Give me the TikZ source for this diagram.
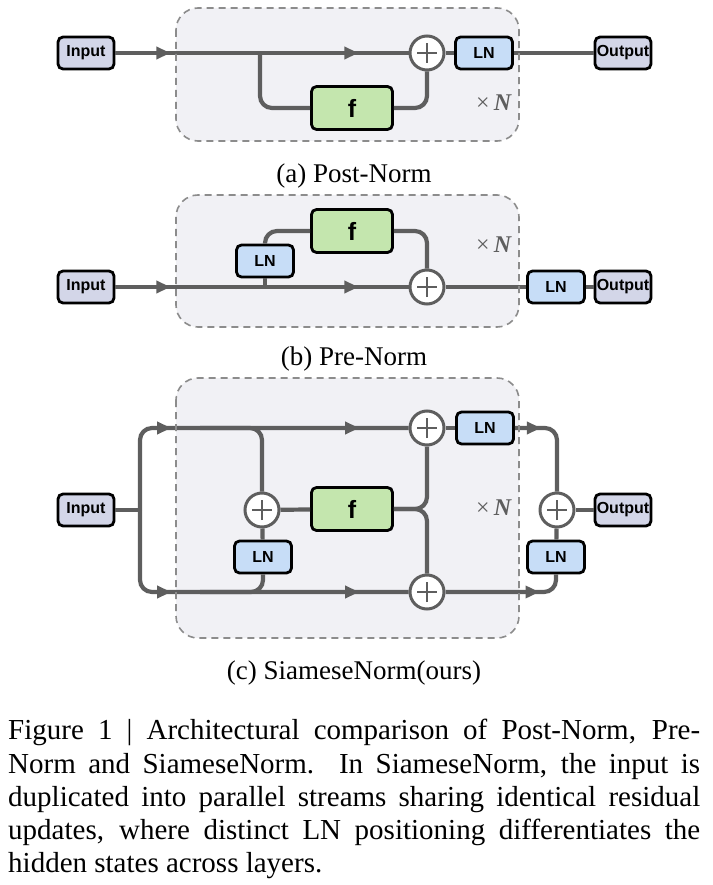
\documentclass[tikz,border=0pt]{standalone}
\usepackage{fontspec}
\setmainfont{Liberation Serif}
\newfontfamily\boxfont{Liberation Sans}
\usetikzlibrary{arrows.meta,decorations.markings}

\definecolor{wiregray}{HTML}{5E5E5E}
\definecolor{rimgray}{HTML}{8C8C8C}
\definecolor{layerfill}{HTML}{F1F1F5}
\definecolor{iofill}{HTML}{D3D6E8}
\definecolor{lnfill}{HTML}{C7DDF7}
\definecolor{ffill}{HTML}{C4E6AE}

\tikzset{
  wire/.style={draw=wiregray, line width=4.2pt, rounded corners=12pt},
  onetip/.style={postaction={decorate,decoration={markings,
      mark=at position #1 with {\arrow{Triangle[length=14pt,width=12pt]}}}}},
  twotips/.style 2 args={postaction={decorate,decoration={markings,
      mark=at position #1 with {\arrow{Triangle[length=14pt,width=12pt]}},
      mark=at position #2 with {\arrow{Triangle[length=14pt,width=12pt]}}}}},
  blk/.style={draw=black, line width=2.8pt, rounded corners=5pt, inner sep=0pt,
      minimum height=32pt, font=\boxfont\bfseries\fontsize{16}{16}\selectfont},
  iobox/.style={blk, fill=iofill, minimum width=56pt},
  lnbox/.style={blk, fill=lnfill, minimum width=57pt},
  fbox/.style={blk, fill=ffill, minimum width=81pt, minimum height=43pt,
      font=\boxfont\bfseries\fontsize{25}{25}\selectfont},
  addop/.style={circle, draw=wiregray, fill=white, line width=3pt,
      minimum size=34pt, inner sep=0pt,
      path picture={\draw[wiregray, line width=2.8pt]
        ([xshift=-10pt]path picture bounding box.center) -- ([xshift=10pt]path picture bounding box.center)
        ([yshift=-10pt]path picture bounding box.center) -- ([yshift=10pt]path picture bounding box.center);}},
  layerbg/.style={fill=layerfill, rounded corners=22pt},
  layerrim/.style={draw=rimgray, line width=1.6pt, dash pattern=on 7pt off 5pt, rounded corners=22pt},
  times/.style={text=wiregray, font=\fontsize{24}{24}\selectfont},
  subcap/.style={anchor=base, font=\fontsize{27}{27}\selectfont},
  figcap/.style={anchor=base west, inner sep=0pt, font=\fontsize{29}{29}\selectfont}
}

\begin{document}
\begin{tikzpicture}[x=1pt, y=-1pt]
  \useasboundingbox (0,0) rectangle (712,885);

  % Fondos
  \fill[layerbg] (176,8) rectangle (519,141);
  \fill[layerbg] (176,195) rectangle (519,327);
  \fill[layerbg] (176,378) rectangle (519,638);

  % (a) Post-Norm
  \node[iobox] (inA) at (86,53) {Input};
  \node[addop] (addA) at (427,53) {};
  \node[lnbox] (lnA) at (484,53) {LN};
  \node[iobox] (outA) at (623,53) {Output};
  \node[fbox] (fA) at (352,108) {f};
  \coordinate (brA) at (260,53);
  \draw[wire, twotips={55pt}{243pt}] (inA) -- (addA);
  \draw[wire] (brA) |- (fA.west);
  \draw[wire] (fA.east) -| (addA.south);
  \draw[wire] (addA) -- (lnA);
  \draw[wire] (lnA) -- (outA);
  \node[times] (nA) at (494,103) {×\,\textbf{\textit{N}}};
  \node[subcap] (capA) at (354,183) {(a) Post-Norm};

  % (b) Pre-Norm
  \node[iobox] (inB) at (86,287) {Input};
  \node[lnbox] (lnB) at (265,261) {LN};
  \node[fbox] (fB) at (352,231) {f};
  \node[addop] (addB) at (427,287) {};
  \node[lnbox] (lnB2) at (556,287) {LN};
  \node[iobox] (outB) at (623,287) {Output};
  \draw[wire, twotips={55pt}{243pt}] (inB) -- (addB);
  \draw[wire] (lnB.south) -- (lnB.south |- inB.east);
  \draw[wire] (lnB.north) |- (fB.west);
  \draw[wire] (fB.east) -| (addB.north);
  \draw[wire] (addB) -- (lnB2);
  \draw[wire] (lnB2) -- (outB);
  \node[times] (nB) at (494,245) {×\,\textbf{\textit{N}}};
  \node[subcap] (capB) at (354,365) {(b) Pre-Norm};

  % (c) SiameseNorm
  \node[iobox] (inC) at (86,510) {Input};
  \node[addop] (addT) at (427,428) {};
  \node[addop] (addBt) at (427,592) {};
  \node[lnbox] (lnT) at (485,428) {LN};
  \node[addop] (addL) at (262,510) {};
  \node[lnbox] (lnL) at (263,557) {LN};
  \node[fbox] (fC) at (352,509) {f};
  \node[addop] (addR) at (557,510) {};
  \node[lnbox] (lnR) at (556,557) {LN};
  \node[iobox] (outC) at (623,510) {Output};
  \coordinate (splitC) at (140,510);
  \coordinate (brT) at (200,428);
  \coordinate (brB) at (200,592);
  \draw[wire] (inC) -- (splitC);
  \draw[wire, twotips={108pt}{296pt}] (splitC) |- (addT);
  \draw[wire, twotips={108pt}{296pt}] (splitC) |- (addBt);
  \draw[wire] (brT) -| (addL.north);
  \draw[wire] (lnL.south) |- (brB);
  \draw[wire] (addL) -- (lnL);
  \draw[wire] (addL) -- (fC);
  \draw[wire] (fC.east) -| (addT.south);
  \draw[wire] (fC.east) -| (addBt.north);
  \draw[wire] (addT) -- (lnT);
  \draw[wire, onetip={26pt}] (lnT.east) -| (addR.north);
  \draw[wire, onetip={94pt}] (addBt.east) -| (lnR.south);
  \draw[wire] (lnR) -- (addR);
  \draw[wire] (addR) -- (outC);
  \node[times] (nC) at (494,508) {×\,\textbf{\textit{N}}};
  \node[subcap] (capC) at (354,679) {(c) SiameseNorm(ours)};

  % Bordes
  \draw[layerrim] (176,8) rectangle (519,141);
  \draw[layerrim] (176,195) rectangle (519,327);
  \draw[layerrim] (176,378) rectangle (519,638);

  % Leyenda
  \node[figcap] (l1) at (8,739) {\makebox[692pt][s]{Figure 1 | Architectural comparison of Post-Norm, Pre-}};
  \node[figcap] (l2) at (8,773) {\makebox[692pt][s]{Norm and SiameseNorm.\ \ In SiameseNorm, the input is}};
  \node[figcap] (l3) at (8,806) {\makebox[692pt][s]{duplicated into parallel streams sharing identical residual}};
  \node[figcap] (l4) at (8,839) {\makebox[692pt][s]{updates, where distinct LN positioning differentiates the}};
  \node[figcap] (l5) at (8,872) {hidden states across layers.};
\end{tikzpicture}
\end{document}
